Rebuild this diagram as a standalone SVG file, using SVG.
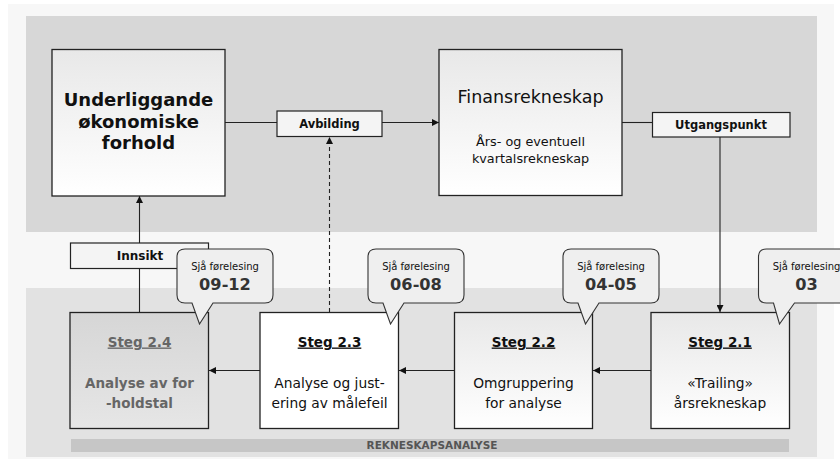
<svg xmlns="http://www.w3.org/2000/svg" width="840" height="461" viewBox="0 0 840 461">
<defs>
<linearGradient id="gw" x1="0" y1="0" x2="0" y2="1"><stop offset="0" stop-color="#e8e8e8"/><stop offset="1" stop-color="#ffffff"/></linearGradient>
<linearGradient id="gg" x1="0" y1="0" x2="0" y2="1"><stop offset="0" stop-color="#d6d6d6"/><stop offset="1" stop-color="#e6e6e6"/></linearGradient>
<marker id="ah" viewBox="0 0 10 10" refX="10" refY="5" markerWidth="7" markerHeight="7" markerUnits="userSpaceOnUse" orient="auto"><path d="M0,0 L10,5 L0,10 z" fill="#111"/></marker>
</defs>
<style>
.box{stroke:#222;stroke-width:1.3}
.lbl{fill:#f4f4f4;stroke:#222;stroke-width:1.2}
.call{fill:#efefef;stroke:#333;stroke-width:1.1}
.ln{stroke:#222;stroke-width:1.1;fill:none}
text{font-family:"DejaVu Sans","Verdana",sans-serif;fill:#111;text-anchor:middle}
.b{font-weight:bold}
.u{text-decoration:underline}
.grey{fill:#666}
</style>
<rect x="0" y="0" width="840" height="461" fill="#ffffff"/>
<rect x="8" y="4" width="826" height="455" fill="#f7f7f7"/>
<rect x="26" y="16" width="791" height="216" fill="#d7d7d7"/>
<rect x="26" y="288" width="791" height="169" fill="#e2e2e2"/>
<rect x="71" y="439" width="718" height="13" fill="#c6c6c6"/>
<text x="432" y="449" class="b" style="font-size:10.5px;fill:#555">REKNESKAPSANALYSE</text>

<g id="connectors">
<line class="ln" x1="225" y1="122.5" x2="439" y2="122.5" marker-end="url(#ah)"/>
<line class="ln" x1="622" y1="122.5" x2="652" y2="122.5"/>
<line class="ln" x1="720" y1="137" x2="720" y2="312" marker-end="url(#ah)"/>
<line class="ln" x1="329.5" y1="312" x2="329.5" y2="137" stroke-dasharray="4,3" marker-end="url(#ah)"/>
<line class="ln" x1="139.5" y1="312" x2="139.5" y2="196" marker-end="url(#ah)"/>
<line class="ln" x1="651" y1="370.5" x2="593" y2="370.5" marker-end="url(#ah)"/>
<line class="ln" x1="454" y1="370.5" x2="399" y2="370.5" marker-end="url(#ah)"/>
<line class="ln" x1="260" y1="370.5" x2="209" y2="370.5" marker-end="url(#ah)"/>
</g>

<g id="underliggande">
<rect class="box" x="52" y="49.5" width="173" height="146.5" fill="url(#gw)"/>
<text x="138.5" y="106" class="b" style="font-size:18px">Underliggande</text>
<text x="138.5" y="127.5" class="b" style="font-size:18px">økonomiske</text>
<text x="138.5" y="149" class="b" style="font-size:18px">forhold</text>
</g>

<g id="avbilding">
<rect class="lbl" x="277" y="111" width="105" height="25.5"/>
<text x="329.5" y="128" class="b" style="font-size:11.5px">Avbilding</text>
</g>

<g id="finansrekneskap">
<rect class="box" x="439" y="49.5" width="183" height="146" fill="url(#gw)"/>
<text x="530.5" y="103" style="font-size:17.5px">Finansrekneskap</text>
<text x="530.5" y="145.5" style="font-size:12.8px">Års- og eventuell</text>
<text x="530.5" y="162.5" style="font-size:12.8px">kvartalsrekneskap</text>
</g>

<g id="utgangspunkt">
<rect class="lbl" x="652.5" y="112.5" width="137.5" height="24.5"/>
<text x="721" y="128.5" class="b" style="font-size:11.5px">Utgangspunkt</text>
</g>

<g id="innsikt">
<rect class="lbl" x="70.5" y="243" width="138" height="25.5"/>
<text x="140" y="259.5" class="b" style="font-size:12px">Innsikt</text>
</g>

<g id="steg24">
<rect class="box" x="70" y="312.5" width="138.5" height="116" fill="url(#gg)"/>
<text x="139.5" y="346.5" class="b u grey" style="font-size:13.5px">Steg 2.4</text>
<text x="139.5" y="388" class="b grey" style="font-size:13.5px">Analyse av for</text>
<text x="139.5" y="408" class="b grey" style="font-size:13.5px">-holdstal</text>
</g>

<g id="steg23">
<rect class="box" x="260" y="312.5" width="138.5" height="116" fill="#ffffff"/>
<text x="329.5" y="346.5" class="b u" style="font-size:13.5px">Steg 2.3</text>
<text x="329.5" y="388" style="font-size:13.8px">Analyse og just-</text>
<text x="329.5" y="408" style="font-size:13.8px">ering av målefeil</text>
</g>

<g id="steg22">
<rect class="box" x="454.5" y="312.5" width="138" height="116" fill="url(#gw)"/>
<text x="523.5" y="346.5" class="b u" style="font-size:13.5px">Steg 2.2</text>
<text x="523.5" y="388" style="font-size:13.8px">Omgruppering</text>
<text x="523.5" y="408" style="font-size:13.8px">for analyse</text>
</g>

<g id="steg21">
<rect class="box" x="651" y="312.5" width="138.5" height="116" fill="url(#gw)"/>
<text x="720" y="346.5" class="b u" style="font-size:13.5px">Steg 2.1</text>
<text x="720" y="388" style="font-size:13.8px">«Trailing»</text>
<text x="720" y="408" style="font-size:13.8px">årsrekneskap</text>
</g>

<g id="callout0912">
<path class="call" d="M185,249 H265 Q273,249 273,257 V295 Q273,303 265,303 H213 L199.5,324 L192,303 H185 Q177,303 177,295 V257 Q177,249 185,249 Z"/>
<text x="225" y="269.5" style="font-size:10px">Sjå førelesing</text>
<text x="225" y="290" class="b" style="font-size:16.2px;fill:#333">09-12</text>
</g>

<g id="callout0608">
<path class="call" d="M376,249 H456 Q464,249 464,257 V295 Q464,303 456,303 H404 L390.5,324 L383,303 H376 Q368,303 368,295 V257 Q368,249 376,249 Z"/>
<text x="416" y="269.5" style="font-size:10px">Sjå førelesing</text>
<text x="416" y="290" class="b" style="font-size:16.2px;fill:#333">06-08</text>
</g>

<g id="callout0405">
<path class="call" d="M571,249 H651 Q659,249 659,257 V295 Q659,303 651,303 H599 L585.5,324 L578,303 H571 Q563,303 563,295 V257 Q563,249 571,249 Z"/>
<text x="611" y="269.5" style="font-size:10px">Sjå førelesing</text>
<text x="611" y="290" class="b" style="font-size:16.2px;fill:#333">04-05</text>
</g>

<g id="callout03">
<path class="call" d="M766.5,249 H846.5 Q854.5,249 854.5,257 V295 Q854.5,303 846.5,303 H794.5 L779.5,324 L773.5,303 H766.5 Q758.5,303 758.5,295 V257 Q758.5,249 766.5,249 Z"/>
<text x="806.5" y="269.5" style="font-size:10px">Sjå førelesing</text>
<text x="806.5" y="290" class="b" style="font-size:16.2px;fill:#333">03</text>
</g>
</svg>
